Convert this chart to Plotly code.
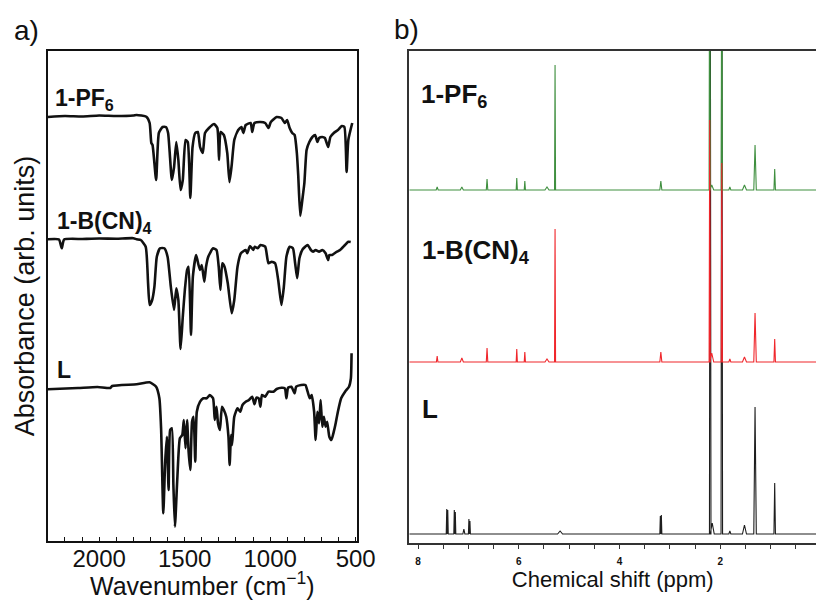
import plotly.graph_objects as go

W, H = 835, 600

# ---------------- IR data (panel a) ----------------
pf6_wn = [2300, 2200, 2100, 2000, 1900, 1800, 1781, 1724, 1705, 1695, 1688, 1667, 1651, 1629, 1610, 1597,
          1575, 1562, 1549, 1537, 1524, 1511, 1495, 1482, 1467, 1454, 1438, 1423, 1410, 1394, 1381, 1358,
          1328, 1309, 1299, 1290, 1271, 1251, 1238, 1225, 1210, 1187, 1168, 1157, 1143, 1114, 1105, 1092,
          1057, 1029, 1010, 996, 962, 934, 914, 901, 886, 871, 857, 844, 836, 824, 812, 800, 787, 771, 753,
          737, 724, 714, 695, 680, 661, 648, 628, 604, 581, 566, 553, 543, 520]
pf6_abs = [424, 425, 424.5, 425.5, 425, 425.5, 426, 424.3, 418, 398, 396, 361, 408, 414, 414, 408,
           361, 374, 399, 381, 351, 361, 401, 399, 343, 394, 408, 409, 394, 388, 408, 413,
           417, 413, 381, 409, 406, 388, 359, 376, 401, 411, 414, 408, 416, 418, 409, 418,
           419, 418, 413, 419, 424, 423, 418, 421, 413, 408, 406, 388, 366, 325, 341, 358, 391, 399, 404,
           406, 399, 403, 404, 403, 394, 404, 408, 411, 415, 414, 369, 401, 418]

bcn_wn = [2300, 2235, 2219, 2205, 2100, 2000, 1900, 1800, 1781, 1757, 1728, 1714, 1705, 1690, 1677, 1663,
          1644, 1619, 1600, 1581, 1562, 1549, 1537, 1524, 1511, 1499, 1486, 1477, 1463, 1452, 1433, 1419,
          1410, 1400, 1385, 1375, 1362, 1334, 1314, 1301, 1291, 1280, 1267, 1248, 1225, 1210, 1191, 1171,
          1143, 1134, 1118, 1099, 1090, 1073, 1057, 1029, 1010, 991, 971, 953, 934, 920, 905, 886, 867,
          854, 842, 829, 810, 781, 762, 749, 734, 714, 695, 676, 661, 654, 638, 610, 591, 562, 543, 529]
bcn_abs = [301.7, 301.5, 292.7, 301.5, 302, 302.5, 302.3, 302.8, 301.7, 301, 294.3, 257.7, 236, 241, 254.3, 284.3,
           292.7, 292.7, 284.3, 254.3, 231, 252.7, 241, 192, 224.3, 251, 271, 274.3, 206, 264.3, 286, 276,
           271, 276, 259.3, 274.3, 284.3, 292.7, 291, 274.3, 251, 277.7, 274.3, 257.7, 227.7, 241, 274.3, 287.7,
           291, 287.7, 295, 291, 294.3, 292.7, 296, 294.3, 277.7, 279.3, 277.7, 261, 236, 254.3, 284.3, 294.3, 292.7,
           277.7, 262.7, 282.7, 291.7, 296, 291, 289.3, 291, 289.3, 291, 287.7, 281, 286, 286, 289.3, 291, 296, 299.3, 299]

l_wn = [2300, 2124, 2010, 1935, 1924, 1781, 1705, 1667, 1648, 1638, 1625, 1614, 1604, 1594, 1585, 1575,
        1566, 1557, 1543, 1528, 1514, 1505, 1495, 1486, 1477, 1467, 1457, 1448, 1438, 1429, 1410, 1391,
        1371, 1353, 1334, 1324, 1314, 1305, 1294, 1282, 1271, 1257, 1244, 1237, 1229, 1223, 1210, 1191,
        1175, 1162, 1143, 1124, 1105, 1092, 1080, 1067, 1057, 1048, 1029, 1010, 981, 962, 934, 914, 905,
        895, 876, 857, 848, 819, 794, 781, 768, 757, 743, 734, 724, 714, 705, 695, 686, 676, 667, 654,
        642, 628, 619, 604, 585, 562, 539, 528, 524]
l_abs = [151.7, 153, 154, 153, 155, 156.7, 158.7, 154.3, 142.7, 112.7, 27.7, 79.3, 104.3, 51, 111, 112.7,
         56, 14.3, 62.7, 102.7, 106, 121, 92.7, 121, 89.3, 71, 119.3, 124.3, 79.3, 129.3, 139.3, 142.7,
         142.7, 146, 142.7, 121, 134.3, 117.7, 111, 134.3, 131, 124.3, 104.3, 76, 106, 96, 124.3, 132.7,
         129.3, 136, 139.3, 141, 144.3, 136.7, 143.3, 142.7, 134.3, 146, 144.3, 149.3, 149.3, 152, 153.3, 152.7, 142.7,
         153.3, 154.3, 147.7, 154.3, 156, 156, 149.3, 142.7, 146, 129.3, 101, 129.3, 117.7, 141, 114.3, 124.3, 114.3, 119.3, 104.3,
         101, 109.3, 116, 129.3, 142.7, 149.3, 154.3, 162.7, 187.7]

ir_ticks = [2000, 1500, 1000, 500]

# ---------------- 1H NMR data (panel b) ----------------
# peak position (ppm), peak top (arb.), half width (ppm)
pf6_nmr_base = 353
pf6_nmr_ppm = [7.62, 7.13, 6.63, 6.04, 5.88, 5.44, 5.28, 3.18, 2.21, 2.17, 1.97, 1.81, 1.52, 1.31, 0.92]
pf6_nmr_top = [356, 356, 364, 365, 362, 356, 478, 362, 700, 358, 700, 356, 358, 398, 374]
pf6_nmr_hw = [0.02, 0.03, 0.015, 0.012, 0.012, 0.04, 0.01, 0.02, 0.012, 0.04, 0.012, 0.02, 0.04, 0.025, 0.015]

bcn_nmr_base = 181
bcn_nmr_ppm = [7.62, 7.13, 6.63, 6.04, 5.88, 5.44, 5.28, 3.18, 2.21, 2.17, 1.97, 1.81, 1.52, 1.31, 0.92]
bcn_nmr_top = [187, 185, 195, 194, 191, 184, 314, 191, 423, 190, 380, 184, 186, 230, 204]
bcn_nmr_hw = [0.015, 0.03, 0.015, 0.012, 0.012, 0.04, 0.01, 0.02, 0.012, 0.04, 0.012, 0.02, 0.04, 0.025, 0.015]

l_nmr_base = 9
l_nmr_ppm = [7.43, 7.41, 7.28, 7.26, 7.09, 6.99, 6.97, 5.18, 3.19, 3.17, 2.20, 2.16, 1.97, 1.81, 1.52, 1.31, 0.92]
l_nmr_top = [34, 33, 33, 31, 14, 24, 22, 12, 27, 28, 700, 20, 700, 12, 18, 136, 60]
l_nmr_hw = [0.01, 0.01, 0.01, 0.01, 0.02, 0.01, 0.01, 0.05, 0.01, 0.01, 0.015, 0.04, 0.015, 0.02, 0.04, 0.025, 0.015]

nmr_tickvals = [8, 6, 4, 2]

FONT = "Liberation Sans, Arial, sans-serif"


def stick_spectrum(ppm, top, hw, base, lo=8.3, hi=0.0):
    xs, ys = [lo], [base]
    for p, t, w in sorted(zip(ppm, top, hw), key=lambda r: -r[0]):
        xs += [p + w, p, p - w]
        ys += [base, t, base]
    xs.append(hi)
    ys.append(base)
    return xs, ys


fig = go.Figure()

ir_line = dict(color="#111111", width=2.6, shape="spline", smoothing=0.5)
for wn, ab in [(pf6_wn, pf6_abs), (bcn_wn, bcn_abs), (l_wn, l_abs)]:
    fig.add_trace(go.Scatter(x=wn, y=ab, mode="lines", line=ir_line,
                             xaxis="x", yaxis="y", showlegend=False, hoverinfo="skip"))

nmr_sets = [
    (l_nmr_ppm, l_nmr_top, l_nmr_hw, l_nmr_base, "#1e1e1e"),
    (pf6_nmr_ppm, pf6_nmr_top, pf6_nmr_hw, pf6_nmr_base, "#3f8f3f"),
    (bcn_nmr_ppm, bcn_nmr_top, bcn_nmr_hw, bcn_nmr_base, "#f0262b"),
]
for ppm, top, hw, base, col in nmr_sets:
    xs, ys = stick_spectrum(ppm, top, hw, base)
    fig.add_trace(go.Scatter(x=xs, y=ys, mode="lines", line=dict(color=col, width=1.1),
                             xaxis="x2", yaxis="y2", showlegend=False, hoverinfo="skip"))

axis_col = "#111111"
fig.update_layout(
    width=W, height=H,
    margin=dict(l=0, r=0, t=0, b=0),
    paper_bgcolor="white", plot_bgcolor="white",
    font=dict(family=FONT, color="#111111"),
    xaxis=dict(domain=[49 / W, 365 / W], range=[2300, 494], anchor="y",
               showline=True, mirror=True, linecolor=axis_col, linewidth=1.8,
               ticks="inside", ticklen=4, tickwidth=1.2, tickcolor=axis_col,
               tickvals=ir_ticks, tickfont=dict(size=24, family=FONT),
               ticklabelstandoff=-5,
               minor=dict(ticks="inside", dtick=100, tick0=0, ticklen=4, tickwidth=1.2, tickcolor=axis_col),
               showgrid=False, zeroline=False,
               title=dict(text="Wavenumber (cm<sup>\u22121</sup>)", font=dict(size=25, family=FONT), standoff=0)),
    yaxis=dict(domain=[1 - 541 / H, 1 - 51 / H], range=[0, 490], anchor="x",
               showline=True, mirror=True, linecolor=axis_col, linewidth=1.8,
               ticks="", showticklabels=False, showgrid=False, zeroline=False,
               title=dict(text="Absorbance (arb. units)", font=dict(size=27, family=FONT), standoff=4)),
    xaxis2=dict(domain=[419 / W, 1.0], range=[8.17, 0.1], anchor="y2",
                showline=True, mirror=True, linecolor="#333333", linewidth=1.5,
                ticks="outside", ticklen=4, tickwidth=1, tickcolor="#333333",
                tickvals=nmr_tickvals, tickfont=dict(size=10, family=FONT, weight="bold"),
                ticklabelstandoff=4,
                minor=dict(ticks="outside", dtick=0.5, tick0=0, ticklen=4, tickwidth=1, tickcolor="#333333"),
                showgrid=False, zeroline=False,
                title=dict(text="Chemical shift (ppm)", font=dict(size=22, family=FONT), standoff=0)),
    yaxis2=dict(domain=[1 - 543 / H, 1 - 51 / H], range=[0, 492], anchor="x2",
                showline=True, mirror=False, linecolor="#333333", linewidth=1.5,
                ticks="", showticklabels=False, showgrid=False, zeroline=False),
)

def px(x):
    return x / W

def py(y):
    return 1 - y / H

annots = [
    ("a)", 12, 30, 28, "normal"),
    ("b)", 401, 29, 28, "normal"),
    ("1-PF<sub>6</sub>", 54, 99, 23, "bold"),
    ("1-B(CN)<sub>4</sub>", 56, 222, 23, "bold"),
    ("L", 56, 370, 23, "bold"),
    ("1-PF<sub>6</sub>", 429, 95, 26, "bold"),
    ("1-B(CN)<sub>4</sub>", 430, 251, 26, "bold"),
    ("L", 430, 409, 26, "bold"),
]
for text, x, y, size, weight in annots:
    fig.add_annotation(text=text, x=px(x), y=py(y), xref="paper", yref="paper",
                       xanchor="left", yanchor="middle", showarrow=False,
                       font=dict(size=size, family=FONT, color="#111111", weight=weight))

fig.write_html("out.html")
